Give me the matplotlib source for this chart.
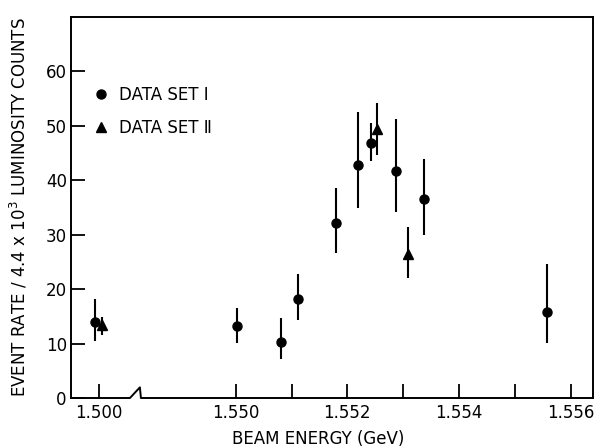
import numpy as np
import matplotlib
matplotlib.use('Agg')
import matplotlib.pyplot as plt
import matplotlib.ticker as ticker

# Data (beam energy in GeV, rate per 4.4e3 luminosity counts)
e_set1 = [1.49992, 1.55002, 1.55082, 1.55111, 1.55179, 1.55219, 1.55242, 1.55287, 1.55338, 1.55557]
r_set1 = [13.9, 13.2, 10.3, 18.2, 32.1, 42.9, 46.9, 41.8, 36.6, 15.8]
lo_set1 = [3.5, 3.1, 3.1, 3.9, 5.4, 7.9, 3.3, 7.6, 6.7, 5.7]
hi_set1 = [4.3, 3.3, 4.4, 4.6, 6.5, 9.7, 3.6, 9.4, 7.4, 8.9]

e_set2 = [1.50004, 1.55253, 1.55309]
r_set2 = [13.5, 49.5, 26.5]
lo_set2 = [2.0, 4.8, 4.4]
hi_set2 = [1.3, 4.7, 4.9]

xticks = [1.500, 1.550, 1.551, 1.552, 1.553, 1.554, 1.555, 1.556]
xticklabels = ['1.500', '1.550', '', '1.552', '', '1.554', '', '1.556']
yticks = [0, 10, 20, 30, 40, 50, 60]

# broken x axis: shift the 1.500 region next to 1.550
OFFSET = 0.047557
SPLIT_X = 1.525
SPLIT_D = 1.5482


def fwd(x):
    x = np.asarray(x, dtype=float)
    return np.where(x < SPLIT_X, x + OFFSET, x)


def inv(d):
    d = np.asarray(d, dtype=float)
    return np.where(d < SPLIT_D, d - OFFSET, d)


plt.rcParams['font.family'] = ['DejaVu Sans']
fig = plt.figure(figsize=(5.95, 4.48), dpi=100)
ax = fig.add_axes([0.1193, 0.1116, 0.8773, 0.8504])

ax.set_xscale('function', functions=(fwd, inv))
ax.set_xlim(1.499493, 1.5564)
ax.set_ylim(0, 70)

ax.errorbar(e_set1, r_set1, yerr=[lo_set1, hi_set1], fmt='none', ecolor='black', elinewidth=1.5, capsize=0)
ax.errorbar(e_set2, r_set2, yerr=[lo_set2, hi_set2], fmt='none', ecolor='black', elinewidth=1.5, capsize=0)
ax.plot(e_set1, r_set1, 'o', color='black', markersize=6.5, linestyle='none', label='DATA SET \u2160')
ax.plot(e_set2, r_set2, '^', color='black', markersize=6.5, linestyle='none', label='DATA SET \u2161')

ax.xaxis.set_major_locator(ticker.FixedLocator(xticks))
ax.set_xticklabels(xticklabels)
ax.xaxis.set_minor_locator(ticker.NullLocator())
ax.set_yticks(yticks)
ax.tick_params(axis='both', direction='in', length=10, width=1.3, labelsize=12, pad=4)
ax.tick_params(axis='y', pad=3)

for side in ['top', 'left', 'right']:
    ax.spines[side].set_linewidth(1.4)
ax.spines['bottom'].set_visible(False)

# bottom spine with the break mark
bx = [0.0, 0.113, 0.132, 0.134, 1.0]
by = [0.0, 0.0, 0.028, 0.0, 0.0]
ax.plot(bx, by, color='black', linewidth=1.4, transform=ax.transAxes, clip_on=False)

ax.set_xlabel('BEAM ENERGY (GeV)', fontsize=12)
ax.xaxis.set_label_coords(0.473, -0.085)
ax.set_ylabel(r'EVENT RATE / 4.4 x 10$^3$ LUMINOSITY COUNTS', fontsize=12)
ax.yaxis.set_label_coords(-0.08, 0.5)

ax.legend(loc='upper left', bbox_to_anchor=(0.035, 0.836), frameon=False, fontsize=12,
          handlelength=0.6, handletextpad=0.8, labelspacing=0.9, borderaxespad=0)

fig.savefig('out.png', dpi=100)
